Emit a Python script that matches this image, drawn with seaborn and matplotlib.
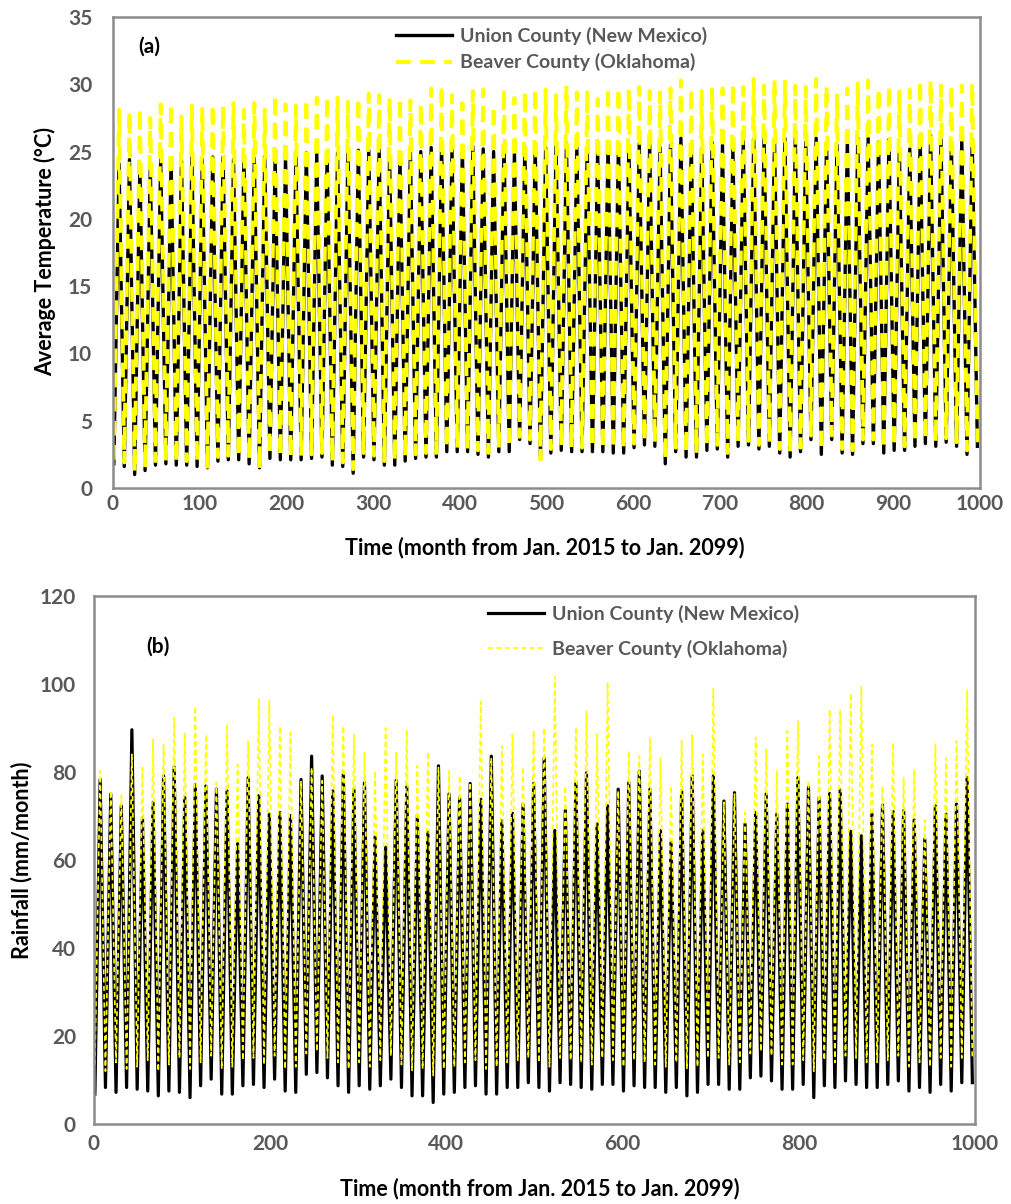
import numpy as np
import pandas as pd
import matplotlib
matplotlib.use("Agg")
import matplotlib.pyplot as plt
import seaborn as sns

# Yearly extremes (peak ~July, trough ~January of each year)
# (a) average temperature, deg C
union_temp_peaks = [24.1, 24.4, 24.0, 23.9, 24.4, 24.4, 24.3, 24.6, 24.4, 24.6, 24.6, 24.4, 24.6, 24.5,
                    24.6, 24.4, 24.6, 24.6, 24.9, 24.9, 24.8, 24.9, 25.1, 25.1, 25.1, 25.2, 24.6, 24.5,
                    25.2, 25.0, 25.3, 25.5, 25.1, 25.2, 25.4, 25.2, 25.0, 25.5, 24.9, 25.2, 25.4, 25.3,
                    25.4, 25.6, 25.3, 25.3, 25.1, 25.4, 25.6, 25.4, 25.6, 25.5, 25.3, 25.5, 26.0,
                    25.6, 25.2, 25.7, 25.5, 25.2, 25.9, 25.9, 26.0, 25.9, 26.0, 26.0, 25.7, 26.0, 25.7,
                    25.5, 25.9, 26.0, 26.0, 25.7, 25.9, 25.2, 25.2, 26.0, 26.2, 25.9, 25.6, 25.9, 25.9]
union_temp_troughs = [1.8, 1.6, 1.0, 1.3, 1.7, 1.8, 1.7, 1.7, 1.6, 1.5, 2.0, 2.1, 2.1, 1.8,
                      1.5, 2.2, 2.1, 2.1, 2.1, 2.2, 2.3, 1.7, 1.6, 1.1, 2.3, 2.1, 1.7, 1.7,
                      2.0, 2.2, 2.3, 2.3, 2.7, 2.7, 2.7, 2.5, 2.3, 2.7, 2.7, 3.6, 3.3, 2.2,
                      2.6, 2.8, 2.7, 2.7, 2.7, 2.7, 2.6, 2.6, 3.0, 3.2, 3.1, 1.8, 2.7, 2.3,
                      2.3, 2.8, 2.9, 2.3, 3.1, 3.2, 2.9, 3.1, 2.6, 2.3, 2.7, 3.6, 2.5, 3.6,
                      2.6, 2.5, 3.3, 3.3, 2.6, 2.8, 2.8, 3.1, 3.3, 3.1, 3.4, 3.1, 2.5, 3.1]
beaver_temp_peaks = [28.1, 28.0, 28.2, 27.5, 28.5, 28.6, 27.6, 28.4, 28.3, 28.5, 28.4, 28.6, 28.1, 28.6,
                     28.1, 29.2, 28.5, 28.4, 28.9, 29.0, 29.1, 29.0, 28.7, 29.0, 29.3, 29.2, 29.0, 29.0,
                     28.8, 28.6, 29.7, 29.9, 29.2, 28.6, 29.5, 29.6, 28.4, 29.7, 29.0, 29.5, 29.7, 29.6,
                     29.2, 29.9, 29.4, 29.6, 28.9, 29.8, 29.7, 29.7, 29.8, 29.5, 29.4, 29.7, 30.3,
                     29.7, 29.5, 29.8, 29.7, 30.1, 29.8, 30.4, 29.9, 30.3, 30.2, 29.9, 29.8, 30.4, 29.9,
                     29.3, 29.7, 30.2, 30.3, 29.7, 29.9, 29.6, 29.6, 30.3, 30.3, 29.9, 29.9, 29.9, 30.1]
beaver_temp_troughs = [2.1, 1.9, 1.2, 1.5, 2.0, 2.0, 1.9, 2.0, 1.9, 1.4, 2.3, 2.4, 2.3, 2.1,
                       1.4, 2.5, 2.4, 2.3, 2.4, 2.5, 2.6, 2.0, 1.9, 1.4, 2.6, 2.4, 2.0, 2.0,
                       2.3, 2.5, 2.6, 2.6, 3.0, 3.0, 2.9, 2.8, 2.6, 3.0, 3.0, 3.8, 3.6, 2.1,
                       2.9, 3.1, 3.0, 3.0, 3.0, 2.9, 2.9, 2.9, 3.3, 3.5, 3.4, 2.1, 3.0, 2.6,
                       2.6, 3.1, 3.2, 2.6, 3.4, 3.5, 3.2, 3.4, 2.9, 2.6, 3.0, 3.9, 2.8, 3.9,
                       2.9, 2.8, 3.6, 3.6, 2.9, 3.1, 3.1, 3.4, 3.6, 3.4, 3.7, 3.4, 2.8, 3.4]

# (b) rainfall, mm/month
union_rain_peaks = [78.3, 75.0, 72.3, 89.6, 69.7, 73.1, 79.1, 81.1, 74.2, 77.1, 76.8, 76.1, 75.7, 63.7,
                    78.7, 74.6, 70.4, 70.8, 70.1, 78.3, 83.6, 79.1, 75.7, 79.5, 76.1, 77.6, 65.2,
                    62.9, 78.1, 76.6, 70.1, 66.3, 81.4, 75.0, 74.1, 77.4, 73.8, 83.6, 68.9, 70.6, 72.7,
                    77.4, 83.2, 66.7, 71.3, 77.6, 79.8, 68.2, 72.3, 76.1, 77.6, 80.2, 76.1, 66.7, 64.0,
                    75.7, 79.1, 66.7, 79.1, 73.4, 75.3, 68.2, 70.8, 75.0, 70.4, 72.7, 78.7, 76.6, 74.2,
                    75.1, 75.9, 66.5, 65.5, 70.4, 72.5, 71.0, 71.2, 69.1, 64.8, 72.3, 70.4, 72.7, 78.7]
union_rain_troughs = [6.8, 8.3, 7.2, 8.3, 7.9, 7.5, 6.4, 7.5, 7.2, 6.0, 8.7, 10.2, 6.8, 6.8,
                      8.7, 9.0, 8.3, 10.2, 7.5, 7.2, 11.3, 11.7, 10.5, 8.7, 7.2, 8.7, 7.9, 8.7,
                      10.2, 8.3, 6.4, 6.4, 4.9, 6.8, 7.2, 8.3, 8.7, 6.8, 6.8, 8.3, 8.3, 9.4,
                      8.3, 7.5, 9.4, 9.0, 8.3, 7.9, 9.0, 9.0, 7.5, 8.7, 8.3, 8.3, 7.2,
                      8.3, 6.4, 7.2, 9.0, 9.0, 7.9, 7.9, 10.5, 10.9, 9.8, 7.9, 7.9, 9.0, 6.0,
                      8.7, 8.3, 9.8, 9.0, 8.3, 8.3, 9.0, 9.8, 7.5, 8.3, 7.2, 9.0, 7.5, 9.4, 9.4]
beaver_rain_peaks = [80.2, 75.7, 74.6, 84.0, 81.0, 87.4, 86.3, 92.3, 88.9, 94.9, 88.5, 77.6, 90.8, 81.7,
                     87.0, 96.4, 96.2, 90.4, 88.9, 78.0, 81.0, 78.0, 93.0, 90.4, 88.5, 84.4, 80.2,
                     90.0, 84.4, 89.6, 81.4, 84.6, 81.0, 80.2, 79.1, 77.6, 96.0, 83.2, 85.9, 88.5, 81.1,
                     89.4, 90.0, 101.7, 76.8, 90.2, 93.8, 88.5, 100.4, 75.7, 84.7, 83.6, 87.9, 83.1, 76.8,
                     87.2, 88.4, 84.0, 98.9, 73.1, 75.0, 70.8, 87.9, 85.1, 80.2, 89.3, 91.5, 78.0, 83.6,
                     94.2, 94.2, 97.9, 99.4, 86.3, 76.8, 86.6, 78.7, 80.6, 69.1, 86.3, 83.2, 87.0, 98.7]
beaver_rain_troughs = [13.5, 12.0, 14.0, 12.5, 13.0, 14.5, 12.0, 13.5, 15.0, 12.5, 14.0, 15.5, 12.5, 13.0,
                       14.5, 15.0, 13.5, 15.5, 12.5, 13.0, 16.0, 16.5, 15.0, 14.0, 12.5, 14.0, 13.0, 14.5,
                       15.5, 13.5, 12.0, 12.5, 11.0, 12.5, 13.0, 14.0, 14.5, 12.5, 13.0, 14.0, 14.5, 15.0,
                       14.0, 13.0, 15.0, 14.5, 14.0, 13.5, 15.0, 14.5, 13.0, 14.5, 14.0, 13.5, 13.0, 14.0,
                       12.5, 13.0, 15.0, 15.0, 13.5, 14.0, 16.0, 16.5, 15.5, 13.5, 13.5, 14.5, 12.0, 14.5,
                       14.0, 15.5, 15.0, 14.0, 14.0, 14.5, 15.5, 13.0, 14.0, 13.0, 15.0, 13.0, 15.0, 15.0]

series_labels = ["Union County (New Mexico)", "Beaver County (Oklahoma)"]
panel_labels = ["(a)", "(b)"]
x_title = "Time (month from Jan. 2015 to Jan. 2099)"
y_titles = ["Average Temperature (°C)", "Rainfall (mm/month)"]


def monthly(peaks, troughs):
    # troughs fall in January, peaks in July of each year
    m = np.concatenate([1 + 12 * np.arange(len(troughs)), 7 + 12 * np.arange(len(peaks))])
    v = np.concatenate([troughs, peaks])
    return pd.DataFrame({"month": m, "value": v}).sort_values("month")


W, H = 1012, 1204
fig = plt.figure(figsize=(W / 100, H / 100), dpi=100)
plt.rcParams["font.family"] = ["Lato", "DejaVu Sans"]


def box(l, t, r, b):
    return [l / W, 1 - b / H, (r - l) / W, (b - t) / H]


gray = "#595959"
frame = "#8c8c8c"
yellow = "#ffff00"

ax_a = fig.add_axes(box(113, 17, 980, 488))
ax_b = fig.add_axes(box(94, 596, 975, 1124))

sns.lineplot(data=monthly(union_temp_peaks, union_temp_troughs), x="month", y="value", ax=ax_a,
             color="black", linewidth=2.4, estimator=None, label=series_labels[0])
sns.lineplot(data=monthly(beaver_temp_peaks, beaver_temp_troughs), x="month", y="value", ax=ax_a,
             color=yellow, linewidth=2.8, linestyle=(0, (3.8, 2.4)), estimator=None, label=series_labels[1])

sns.lineplot(data=monthly(union_rain_peaks, union_rain_troughs), x="month", y="value", ax=ax_b,
             color="black", linewidth=2.3, estimator=None, label=series_labels[0])
sns.lineplot(data=monthly(beaver_rain_peaks, beaver_rain_troughs), x="month", y="value", ax=ax_b,
             color=yellow, linewidth=1.2, linestyle=(0, (3, 2)), estimator=None, label=series_labels[1])

ax_a.set_xlim(0, 1000)
ax_a.set_ylim(0, 35)
ax_a.set_xticks(range(0, 1001, 100))
ax_a.set_yticks(range(0, 36, 5))
ax_b.set_xlim(0, 1000)
ax_b.set_ylim(0, 120)
ax_b.set_xticks(range(0, 1001, 200))
ax_b.set_yticks(range(0, 121, 20))

for ax, ypad, xpad in [(ax_a, 15, 4), (ax_b, 13, 7)]:
    ax.set_xlabel("")
    ax.set_ylabel("")
    ax.tick_params(length=0, labelsize=15, labelcolor=gray)
    ax.tick_params(axis="y", pad=ypad)
    ax.tick_params(axis="x", pad=xpad)
    for lab in ax.get_xticklabels() + ax.get_yticklabels():
        lab.set_fontweight("bold")
    for s in ax.spines.values():
        s.set_color(frame)
        s.set_linewidth(1.8)

leg_a = ax_a.legend(loc="upper left", bbox_to_anchor=(396 / W, 1 - 27 / H), bbox_transform=fig.transFigure,
                    frameon=False, fontsize=14, handlelength=2.9, handletextpad=0.4, labelspacing=0.42,
                    borderpad=0, borderaxespad=0)
leg_b = ax_b.legend(loc="upper left", bbox_to_anchor=(488 / W, 1 - 605 / H), bbox_transform=fig.transFigure,
                    frameon=False, fontsize=14, handlelength=2.9, handletextpad=0.4, labelspacing=0.85,
                    borderpad=0, borderaxespad=0)
for leg in (leg_a, leg_b):
    for t in leg.get_texts():
        t.set_color(gray)
        t.set_fontweight("bold")

fig.text(138 / W, 1 - 47 / H, panel_labels[0], fontsize=15, fontweight="bold", va="center")
fig.text(146 / W, 1 - 647 / H, panel_labels[1], fontsize=15, fontweight="bold", va="center")

fig.text(545 / W, 1 - 548 / H, x_title, fontsize=15.5, fontweight="bold", ha="center", va="center")
fig.text(540 / W, 1 - 1189 / H, x_title, fontsize=15.5, fontweight="bold", ha="center", va="center")
fig.text(45 / W, 1 - 252 / H, y_titles[0], fontsize=15.5, fontweight="bold", ha="center", va="center",
         rotation=90)
fig.text(22 / W, 1 - 860 / H, y_titles[1], fontsize=15.5, fontweight="bold", ha="center", va="center",
         rotation=90)

fig.savefig("out.png", dpi=100)
